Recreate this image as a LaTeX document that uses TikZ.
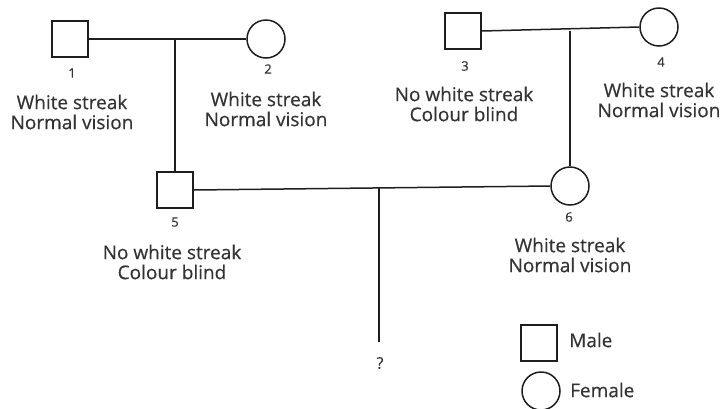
\documentclass[tikz,border=0pt]{standalone}
\usepackage{fontspec}
\setmainfont{Open Sans}
\newfontfamily\labelfont{Open Sans}[FakeBold=0.4]
\usetikzlibrary{calc}
\definecolor{ink}{HTML}{1E1E1E}
\definecolor{txt}{HTML}{333333}
\begin{document}
\begin{tikzpicture}[x=1pt,y=-1pt,
  male/.style={draw=ink,line width=1.5pt,rectangle,minimum size=36pt,inner sep=0pt},
  female/.style={draw=ink,line width=1.5pt,circle,minimum size=38pt,inner sep=0pt},
  link/.style={draw=ink,line width=1.5pt},
  idx/.style={text=txt,font=\labelfont\fontsize{13}{15}\selectfont,inner sep=0pt},
  trait/.style={text=txt,font=\labelfont\fontsize{19}{20}\selectfont,align=center,inner sep=0pt},
  legend/.style={text=txt,font=\labelfont\fontsize{19}{20}\selectfont,anchor=west,inner sep=0pt}]
\useasboundingbox (0,0) rectangle (722,408);

% individuals
\node[male]   (p1) at (70,39)  {};
\node[female] (p2) at (266,39) {};
\node[male]   (p3) at (463,31) {};
\node[female] (p4) at (659,27) {};
\node[male]   (p5) at (175,190) {};
\node[female] (p6) at (570,186) {};

% numbers
\node[idx] (n1) at (72,73)  {1};
\node[idx] (n2) at (268,69) {2};
\node[idx] (n3) at (465,66) {3};
\node[idx] (n4) at (661,62) {4};
\node[idx] (n5) at (175,222) {5};
\node[idx] (n6) at (569,217) {6};

% phenotypes
\node[trait] (t1) at (72,112)  {White streak\\Normal vision};
\node[trait] (t2) at (266,109) {White streak\\Normal vision};
\node[trait] (t3) at (464,104) {No white streak\\Colour blind};
\node[trait] (t4) at (659,100) {White streak\\Normal vision};
\node[trait] (t5) at (172,262) {No white streak\\Colour blind};
\node[trait] (t6) at (570,255) {White streak\\Normal vision};

% unknown child
\node[text=txt,font=\labelfont\fontsize{16}{18}\selectfont,inner sep=0pt] (q) at (380,363) {?};
\coordinate (kid) at (378,342);

% marriages and descent lines
\draw[link] (p1.east) -- (p2.west);
\draw[link] (p3.east) -- (p4.west);
\draw[link] (p5.east) -- (p6.west);
\draw[link] (p5.north) -- (p5.north |- p1.east);
\draw[link] (p6.north) -- (p6.north |- p3.east);
\coordinate (m56) at ($(p5.east)!0.52!(p6.west)$);
\draw[link] (m56) -- (m56 |- kid);

% key
\node[male]   (km) at (539,343) {};
\node[female] (kf) at (541,391) {};
\node[legend] (lm) at (569,340) {Male};
\node[legend] (lf) at (570,390) {Female};
\end{tikzpicture}
\end{document}
